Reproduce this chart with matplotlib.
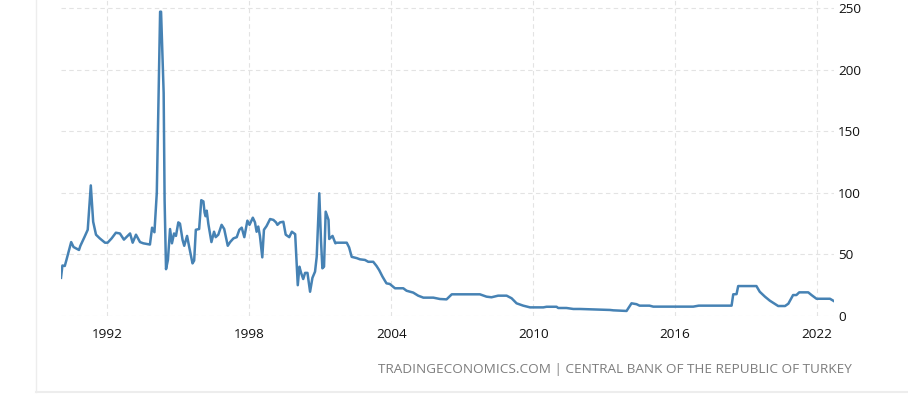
import matplotlib.pyplot as plt
from matplotlib.lines import Line2D

# Turkey interest rate (decimal year, percent)
years = [
    1990.04, 1990.10, 1990.20, 1990.27, 1990.47, 1990.57, 1990.80, 1990.86, 1991.03, 1991.17,
    1991.30, 1991.40, 1991.52, 1991.68, 1991.90, 1992.01, 1992.18, 1992.36, 1992.53, 1992.70,
    1992.96, 1993.07, 1993.21, 1993.38, 1993.52, 1993.80, 1993.89, 1993.99, 1994.09, 1994.16,
    1994.23, 1994.27, 1994.38, 1994.42, 1994.48, 1994.56, 1994.65, 1994.73, 1994.82, 1994.90,
    1995.00, 1995.07, 1995.18, 1995.25, 1995.37, 1995.46, 1995.60, 1995.67, 1995.74, 1995.88,
    1995.97, 1996.06, 1996.11, 1996.15, 1996.20, 1996.27, 1996.40, 1996.51, 1996.58, 1996.69,
    1996.83, 1996.94, 1997.09, 1997.19, 1997.33, 1997.47, 1997.58, 1997.68, 1997.79, 1997.92,
    1998.01, 1998.15, 1998.24, 1998.31, 1998.38, 1998.45, 1998.55, 1998.62, 1998.73, 1998.88,
    1999.02, 1999.13, 1999.19, 1999.30, 1999.44, 1999.54, 1999.69, 1999.80, 1999.94, 2000.05,
    2000.12, 2000.19, 2000.28, 2000.36, 2000.46, 2000.57, 2000.67, 2000.78, 2000.85, 2000.96,
    2001.03, 2001.09, 2001.16, 2001.23, 2001.35, 2001.38, 2001.52, 2001.64, 2001.69, 2002.12,
    2002.22, 2002.33, 2002.54, 2002.68, 2002.89, 2003.03, 2003.24, 2003.38, 2003.49, 2003.63,
    2003.80, 2003.94, 2004.16, 2004.51, 2004.65, 2004.93, 2005.14, 2005.36, 2005.78, 2006.06,
    2006.34, 2006.56, 2007.75, 2008.03, 2008.24, 2008.52, 2008.88, 2009.09, 2009.30, 2009.58,
    2009.87, 2010.43, 2010.57, 2010.99, 2011.06, 2011.41, 2011.70, 2011.98, 2013.25, 2013.39,
    2013.95, 2014.16, 2014.37, 2014.50, 2014.92, 2015.08, 2016.77, 2017.00, 2018.39, 2018.46,
    2018.60, 2018.67, 2019.44, 2019.58, 2019.80, 2020.01, 2020.36, 2020.65, 2020.79, 2020.99,
    2021.13, 2021.25, 2021.63, 2021.77, 2021.98, 2022.55, 2022.76,
]
rates = [
    31.0, 41.0, 40.6, 45.5, 60.0, 56.0, 53.6, 57.0, 64.0, 70.0,
    106.0, 76.5, 66.0, 63.0, 59.5, 59.5, 63.0, 67.6, 67.0, 62.0,
    67.0, 59.5, 66.0, 60.0, 59.0, 58.0, 71.7, 68.0, 100.0, 175.0,
    247.0, 247.0, 181.0, 94.0, 38.0, 45.5, 70.6, 59.0, 67.0, 65.0,
    76.0, 75.0, 61.7, 57.0, 65.0, 56.0, 42.7, 45.0, 70.0, 70.6,
    94.0, 93.0, 84.0, 81.0, 85.5, 74.7, 60.0, 68.4, 64.0, 66.0,
    74.0, 70.6, 57.0, 60.0, 63.0, 64.0, 70.0, 71.7, 64.0, 77.4,
    74.0, 79.8, 76.0, 68.4, 72.6, 65.0, 47.6, 70.0, 73.0, 78.7,
    78.0, 76.0, 74.0, 76.0, 76.5, 66.0, 64.0, 68.4, 66.4, 25.0,
    40.0, 35.0, 30.0, 35.0, 35.0, 19.7, 31.0, 36.0, 48.0, 99.6,
    62.0, 38.7, 40.0, 84.7, 78.0, 62.5, 65.0, 59.0, 59.5, 59.5,
    55.7, 48.0, 47.0, 46.0, 45.5, 44.0, 44.0, 40.6, 37.3, 32.0,
    26.5, 26.0, 22.5, 22.5, 20.5, 19.0, 16.5, 14.9, 14.9, 13.8,
    13.5, 17.6, 17.6, 15.7, 15.2, 16.5, 16.5, 14.4, 10.3, 8.4,
    7.0, 7.0, 7.5, 7.5, 6.5, 6.5, 5.7, 5.7, 4.9, 4.6,
    4.1, 10.3, 9.6, 8.4, 8.4, 7.6, 7.6, 8.4, 8.4, 17.6,
    17.75, 24.3, 24.3, 19.7, 15.7, 12.4, 8.1, 8.1, 10.0, 17.0,
    17.0, 19.2, 19.2, 17.0, 14.0, 14.0, 11.6,
]

xticks = [1992, 1998, 2004, 2010, 2016, 2022]
yticks = [0, 50, 100, 150, 200, 250]
source = "TRADINGECONOMICS.COM | CENTRAL BANK OF THE REPUBLIC OF TURKEY"

plt.rcParams['font.family'] = ['Open Sans', 'DejaVu Sans']

W, H = 908, 394
fig = plt.figure(figsize=(W / 100, H / 100), dpi=100)

# axes box in pixels: left 61, right 834, top 0, bottom 316
ax = fig.add_axes([61 / W, (H - 316) / H, (834 - 61) / W, 316 / H])
ax.plot(years, rates, color='#4682b4', linewidth=1.8, solid_joinstyle='round')

ax.set_xlim(1990.04, 2022.72)
ax.set_ylim(0, 256.5)
ax.set_xticks(xticks)
ax.set_yticks(yticks)
ax.set_xticklabels([str(y) for y in xticks])
ax.yaxis.tick_right()
ax.tick_params(axis='both', length=0, labelsize=9.7, colors='#111111')
ax.tick_params(axis='x', pad=9)
ax.tick_params(axis='y', pad=3)

ax.grid(True, color='#e3e3e3', linestyle=(0, (4, 3)), linewidth=0.8)
ax.set_axisbelow(True)
for s in ax.spines.values():
    s.set_visible(False)

# outer frame (left and bottom edge of the widget box)
fig.add_artist(Line2D([35.5 / W, 35.5 / W], [(H - 392) / H, 1], color='#ededed', linewidth=1))
fig.add_artist(Line2D([35.5 / W, 1], [(H - 392) / H, (H - 392) / H], color='#ededed', linewidth=1.5))

fig.text(852 / W, (H - 370) / H, source, ha='right', va='center',
         fontsize=9.7, color='#7d7d7d')

fig.savefig('out.png', dpi=100)
